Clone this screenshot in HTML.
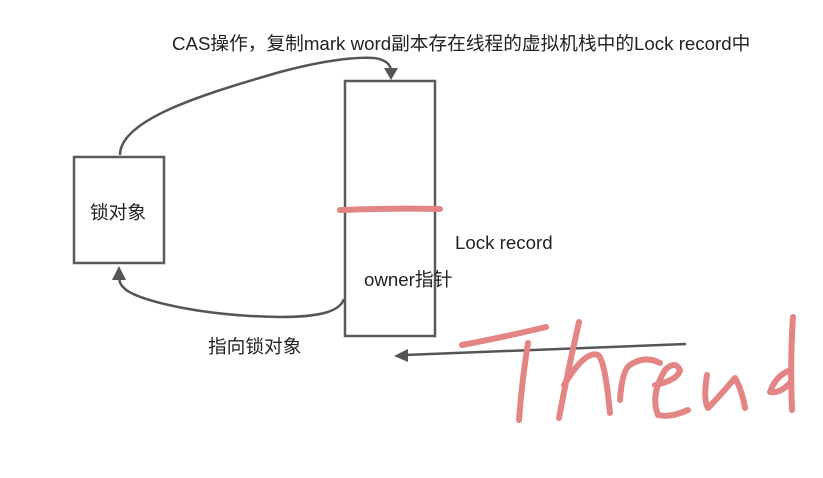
<!DOCTYPE html>
<html><head><meta charset="utf-8"><style>
body{margin:0;background:#fff;}
svg{display:block}
text{font-family:"Liberation Sans","Noto Sans CJK SC",sans-serif;fill:#222;font-size:18.7px}
</style></head><body>
<svg width="823" height="478" viewBox="0 0 823 478" xmlns="http://www.w3.org/2000/svg">
<rect width="823" height="478" fill="#fff"/>
<text x="172" y="50">CAS操作，复制mark word副本存在线程的虚拟机栈中的Lock record中</text>
<rect x="74" y="157" width="90" height="106" fill="none" stroke="#5a5a5a" stroke-width="2.5"/>
<text x="90" y="219">锁对象</text>
<rect x="345" y="81" width="90" height="255" fill="none" stroke="#5a5a5a" stroke-width="2.5"/>
<text x="364" y="286">owner指针</text>
<text x="455" y="249">Lock record</text>
<text x="208" y="353">指向锁对象</text>
<path d="M120 155 C120 120 200 95 280 72 C340 56 375 56 382 60 Q390 63 391 70" fill="none" stroke="#555" stroke-width="2.5"/>
<polygon points="384,68 398,68 391,80" fill="#555"/>
<path d="M344 299 C340 310 325 317 280 317 C200 316 135 300 124 288 Q119 284 119 276" fill="none" stroke="#555" stroke-width="2.5"/>
<polygon points="112,280 126,280 119,266" fill="#555"/>
<path d="M686 344 L405 355" fill="none" stroke="#555" stroke-width="2.5"/>
<polygon points="394,356 408,349 408,362" fill="#555"/>
<path d="M340 210 Q390 208 440 209" fill="none" stroke="#e38584" stroke-width="6" stroke-linecap="round"/>
<g fill="none" stroke="#e38584" stroke-width="6" stroke-linecap="round" stroke-linejoin="round">
<path d="M462 345 Q500 338 546 327"/>
<path d="M528 343 Q522 380 519 420"/>
<path d="M579 322 Q568 370 559 418"/>
<path d="M564 385 Q585 350 598 355 Q605 360 610 413"/>
<path d="M620 400 Q622 370 630 365 Q645 355 660 363"/>
<path d="M655 385 Q678 380 680 370 Q675 360 665 370 Q650 395 658 415 Q670 418 688 410"/>
<path d="M707 375 Q703 400 708 408 Q718 398 735 378 Q742 390 745 408"/>
<path d="M793 317 Q790 360 792 410"/>
<path d="M791 370 Q776 375 770 392 Q780 394 791 382"/>
</g>
</svg>
</body></html>
